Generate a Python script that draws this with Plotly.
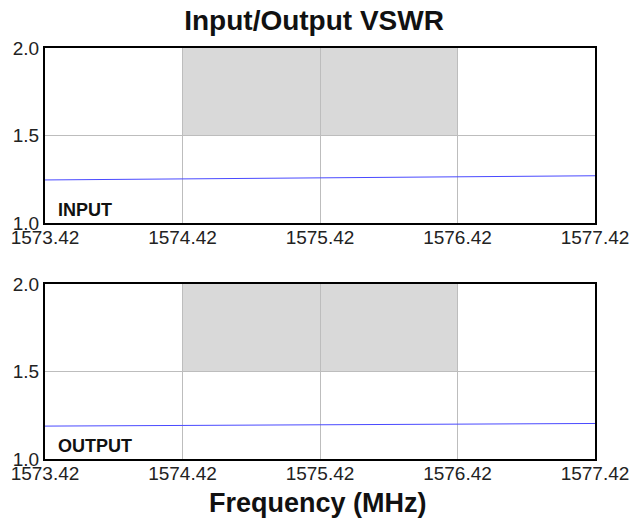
import plotly.graph_objects as go
from plotly.subplots import make_subplots

freq = [1573.42, 1574.42, 1575.42, 1576.42, 1577.42]
input_vswr = [1.246, 1.251, 1.256, 1.261, 1.270]
output_vswr = [1.188, 1.191, 1.194, 1.197, 1.203]
band_x = [1574.42, 1576.42]
band_y = [1.5, 2.0]
x_ticks = [1573.42, 1574.42, 1575.42, 1576.42, 1577.42]
y_ticks = [1.0, 1.5, 2.0]

FONT = "Arial, Liberation Sans, sans-serif"

fig = make_subplots(rows=2, cols=1, vertical_spacing=0.1484)

fig.add_trace(go.Scatter(x=freq, y=input_vswr, mode="lines",
                         line=dict(color="#4a4aff", width=1), showlegend=False), row=1, col=1)
fig.add_trace(go.Scatter(x=freq, y=output_vswr, mode="lines",
                         line=dict(color="#4a4aff", width=1), showlegend=False), row=2, col=1)

for xr, yr in [("x", "y"), ("x2", "y2")]:
    fig.add_shape(type="rect", xref=xr, yref=yr, x0=band_x[0], x1=band_x[1],
                  y0=band_y[0], y1=band_y[1], fillcolor="#d9d9d9",
                  line=dict(width=0), layer="below")

axis_common = dict(showline=True, linecolor="black", linewidth=2, mirror=True,
                   showgrid=True, gridcolor="#bdbdbd", gridwidth=1, ticks="",
                   zeroline=False, automargin=False,
                   tickfont=dict(family=FONT, size=19, color="#222"))

fig.update_xaxes(range=[x_ticks[0], x_ticks[-1]], tickvals=x_ticks,
                 ticktext=[f"{v:.2f}" for v in x_ticks], ticklabelstandoff=-4, **axis_common)
fig.update_yaxes(range=[y_ticks[0], y_ticks[-1]], tickvals=y_ticks,
                 ticktext=[f"{v:.1f}" for v in y_ticks], **axis_common)

fig.update_layout(
    width=641, height=523,
    margin=dict(l=45, r=46, t=48, b=64),
    paper_bgcolor="white", plot_bgcolor="white",
    title=dict(text="<b>Input/Output VSWR</b>", x=0.49, xanchor="center",
               y=1 - 20 / 523, yanchor="middle",
               font=dict(family=FONT, size=28, color="#111")),
)
fig.update_layout(yaxis=dict(domain=[0.5742, 1.0]), yaxis2=dict(domain=[0.0, 0.4258]))

fig.add_annotation(text="<b>INPUT</b>", xref="x domain", yref="y domain", x=0.02, y=0.005,
                   xanchor="left", yanchor="bottom", showarrow=False,
                   font=dict(family=FONT, size=18, color="#111"))
fig.add_annotation(text="<b>OUTPUT</b>", xref="x2 domain", yref="y2 domain", x=0.02, y=0.005,
                   xanchor="left", yanchor="bottom", showarrow=False,
                   font=dict(family=FONT, size=18, color="#111"))
fig.add_annotation(text="<b>Frequency (MHz)</b>", xref="paper", yref="paper", x=0.496, y=-0.107,
                   xanchor="center", yanchor="middle", showarrow=False,
                   font=dict(family=FONT, size=27, color="#111"))

fig.write_html("out.html", config={"displayModeBar": False},
               post_script="document.body.style.margin='0px';")
